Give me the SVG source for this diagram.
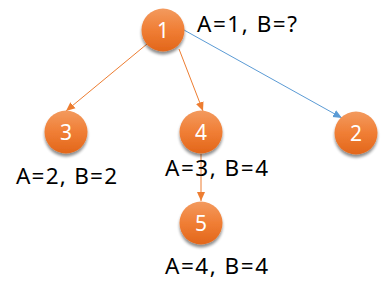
<svg xmlns="http://www.w3.org/2000/svg" width="384" height="294" viewBox="0 0 384 294">
<style>
.lbl{font-family:"Noto Sans","Open Sans",sans-serif;font-size:22.5px;fill:#000}
.num{font-family:"Noto Sans","Open Sans",sans-serif;font-size:21px;fill:#fff;text-anchor:middle}
.o{stroke:#ED7D31;stroke-width:1;fill:none;marker-end:url(#ao)}
.b{stroke:#5B9BD5;stroke-width:1;fill:none;marker-end:url(#ab)}
</style>
<defs>
<linearGradient id="g" x1="0" y1="0" x2="0" y2="1">
<stop offset="0" stop-color="#F39A5E"/>
<stop offset="0.5" stop-color="#F07E35"/>
<stop offset="1" stop-color="#E2661A"/>
</linearGradient>
<filter id="sh" x="-30%" y="-30%" width="160%" height="170%">
<feGaussianBlur in="SourceAlpha" stdDeviation="1.8"/>
<feOffset dx="0" dy="2.5" result="b"/>
<feComponentTransfer><feFuncA type="linear" slope="0.45"/></feComponentTransfer>
<feMerge><feMergeNode/><feMergeNode in="SourceGraphic"/></feMerge>
</filter>
<marker id="ao" markerWidth="10" markerHeight="10" refX="9" refY="5" orient="auto" markerUnits="userSpaceOnUse"><path d="M0,1 L9,5 L0,9 z" fill="#ED7D31"/></marker>
<marker id="ab" markerWidth="10" markerHeight="10" refX="9" refY="5" orient="auto" markerUnits="userSpaceOnUse"><path d="M0,1 L9,5 L0,9 z" fill="#5B9BD5"/></marker>
</defs>
<g id="connectors">
<line class="o" x1="147" y1="44" x2="66" y2="111"/>
<line class="o" x1="179" y1="49" x2="203" y2="111"/>
<line class="b" x1="184" y1="30" x2="342" y2="118"/>
<line class="o" x1="201" y1="154" x2="201" y2="201"/>
</g>
<g id="n1"><circle cx="163" cy="30" r="21.5" fill="url(#g)" filter="url(#sh)"/><text class="num" x="163" y="37.5">1</text></g>
<g id="n3"><circle cx="66" cy="132" r="21.5" fill="url(#g)" filter="url(#sh)"/><text class="num" x="66" y="139.5">3</text></g>
<g id="n4"><circle cx="201" cy="132" r="21.5" fill="url(#g)" filter="url(#sh)"/><text class="num" x="201" y="139.5">4</text></g>
<g id="n2"><circle cx="356" cy="133" r="21.5" fill="url(#g)" filter="url(#sh)"/><text class="num" x="356" y="140.5">2</text></g>
<g id="n5"><circle cx="201" cy="223" r="21.5" fill="url(#g)" filter="url(#sh)"/><text class="num" x="201" y="230.5">5</text></g>
<text class="lbl" x="197" y="32" textLength="100" lengthAdjust="spacing">A=1, B=?</text>
<text class="lbl" x="16" y="184" textLength="101" lengthAdjust="spacing">A=2, B=2</text>
<text class="lbl" x="165" y="176" textLength="103" lengthAdjust="spacing">A=3, B=4</text>
<text class="lbl" x="165" y="274" textLength="103" lengthAdjust="spacing">A=4, B=4</text>
</svg>
